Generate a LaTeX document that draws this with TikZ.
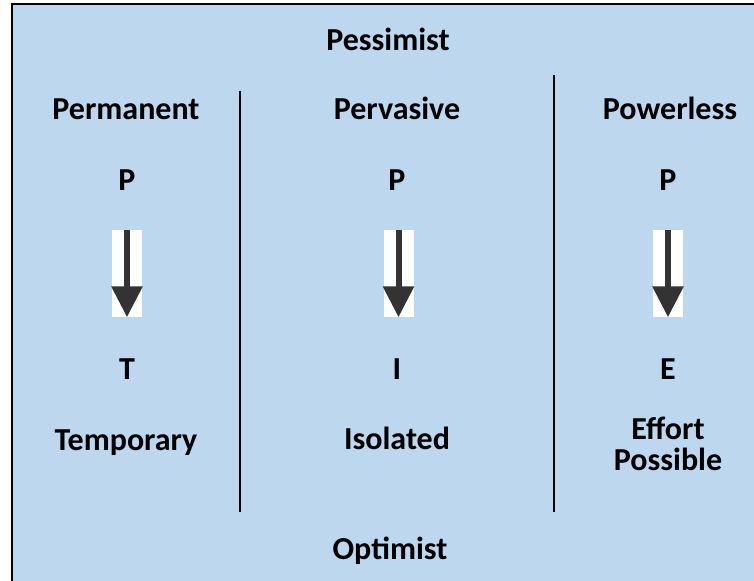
\documentclass[tikz,border=0pt]{standalone}
\usepackage{fontspec}
\setmainfont{Carlito}
\usetikzlibrary{arrows.meta}
\definecolor{bgblue}{HTML}{BDD7EE}
\definecolor{arrowgray}{HTML}{333333}
\tikzset{
  lbl/.style={font=\fontsize{24}{21}\selectfont\bfseries, inner sep=0pt, anchor=base},
  wbox/.style={fill=white, draw=none, minimum width=22.5pt, minimum height=65.25pt, inner sep=0pt},
  downarrow/.style={draw=arrowgray, line width=4.5pt, -{Triangle[width=22.5pt,length=23.25pt,fill=arrowgray]}},
  divider/.style={draw=black, line width=1.5pt},
  frame/.style={draw=black, line width=1.5pt}
}
\begin{document}
\begin{tikzpicture}[x=0.75pt,y=-0.75pt]
\useasboundingbox (0,0) rectangle (754,581);
\fill[bgblue] (12,4) rectangle (754,581);
\draw[frame] (754,4) -- (12,4) -- (12,581);
% dividers
\draw[divider] (240,91) -- (240,512);
\draw[divider] (554,75) -- (554,512);
% headings
\node[lbl] (pess) at (388,51) {Pessimist};
\node[lbl] (perm) at (126,120) {Permanent};
\node[lbl] (perv) at (397,120) {Pervasive};
\node[lbl] (powr) at (670,120) {Powerless};
\node[lbl] (p1) at (127,191) {P};
\node[lbl] (p2) at (397,191) {P};
\node[lbl] (p3) at (668,191) {P};
% arrows
\node[wbox] (b1) at (127,273.5) {};
\node[wbox] (b2) at (398.5,273.5) {};
\node[wbox] (b3) at (668,273.5) {};
\draw[downarrow] (b1.north) -- (b1.south);
\draw[downarrow] (b2.north) -- (b2.south);
\draw[downarrow] (b3.north) -- (b3.south);
\node[lbl] (t) at (127,379) {T};
\node[lbl] (i) at (397,379) {I};
\node[lbl] (e) at (668,379) {E};
\node[lbl] (temp) at (126,450) {Temporary};
\node[lbl] (isol) at (397,449) {Isolated};
\node[lbl] (eff) at (668,439) {Effort};
\node[lbl] (poss) at (668,470) {Possible};
\node[lbl] (opt) at (390,559) {Optimist};
\end{tikzpicture}
\end{document}
